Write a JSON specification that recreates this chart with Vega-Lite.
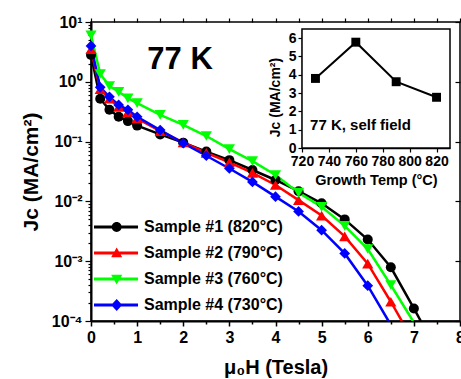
{
  "$schema": "https://vega.github.io/schema/vega-lite/v6.json",
  "width": 369,
  "height": 299,
  "autosize": "none",
  "padding": {"left": 91, "top": 22, "right": 1, "bottom": 58},
  "background": "white",
  "config": {
    "font": "Liberation Sans",
    "view": {"stroke": "black", "strokeWidth": 1.5},
    "axis": {"grid": false, "domainColor": "black", "tickColor": "black", "labelColor": "black", "titleColor": "black", "labelFont": "Liberation Sans", "titleFont": "Liberation Sans", "labelFontWeight": "bold", "titleFontWeight": "bold", "labelOverlap": false, "labelFlush": false},
    "legend": {"labelFont": "Liberation Sans", "labelFontSize": 16, "labelFontWeight": "bold", "labelColor": "black"}
  },
  "datasets": {
    "jc": [
      {"s": "Sample #1 (820°C)", "H": 0, "J": 2.8, "m": 1},
      {"s": "Sample #1 (820°C)", "H": 0.2, "J": 0.52, "m": 1},
      {"s": "Sample #1 (820°C)", "H": 0.4, "J": 0.34, "m": 1},
      {"s": "Sample #1 (820°C)", "H": 0.6, "J": 0.26, "m": 1},
      {"s": "Sample #1 (820°C)", "H": 0.8, "J": 0.22, "m": 1},
      {"s": "Sample #1 (820°C)", "H": 1.0, "J": 0.185, "m": 1},
      {"s": "Sample #1 (820°C)", "H": 1.5, "J": 0.132, "m": 1},
      {"s": "Sample #1 (820°C)", "H": 2.0, "J": 0.096, "m": 1},
      {"s": "Sample #1 (820°C)", "H": 2.5, "J": 0.068, "m": 1},
      {"s": "Sample #1 (820°C)", "H": 3.0, "J": 0.049, "m": 1},
      {"s": "Sample #1 (820°C)", "H": 3.5, "J": 0.0335, "m": 1},
      {"s": "Sample #1 (820°C)", "H": 4.0, "J": 0.0228, "m": 1},
      {"s": "Sample #1 (820°C)", "H": 4.5, "J": 0.0148, "m": 1},
      {"s": "Sample #1 (820°C)", "H": 5.0, "J": 0.0093, "m": 1},
      {"s": "Sample #1 (820°C)", "H": 5.5, "J": 0.005, "m": 1},
      {"s": "Sample #1 (820°C)", "H": 6.0, "J": 0.0023, "m": 1},
      {"s": "Sample #1 (820°C)", "H": 6.5, "J": 0.00079, "m": 1},
      {"s": "Sample #1 (820°C)", "H": 7.0, "J": 0.000162, "m": 1},
      {"s": "Sample #1 (820°C)", "H": 7.15, "J": 0.0001, "m": 0},
      {"s": "Sample #2 (790°C)", "H": 0, "J": 3.5, "m": 1},
      {"s": "Sample #2 (790°C)", "H": 0.2, "J": 0.75, "m": 1},
      {"s": "Sample #2 (790°C)", "H": 0.4, "J": 0.52, "m": 1},
      {"s": "Sample #2 (790°C)", "H": 0.6, "J": 0.38, "m": 1},
      {"s": "Sample #2 (790°C)", "H": 0.8, "J": 0.31, "m": 1},
      {"s": "Sample #2 (790°C)", "H": 1.0, "J": 0.245, "m": 1},
      {"s": "Sample #2 (790°C)", "H": 1.5, "J": 0.15, "m": 1},
      {"s": "Sample #2 (790°C)", "H": 2.0, "J": 0.097, "m": 1},
      {"s": "Sample #2 (790°C)", "H": 2.5, "J": 0.065, "m": 1},
      {"s": "Sample #2 (790°C)", "H": 3.0, "J": 0.045, "m": 1},
      {"s": "Sample #2 (790°C)", "H": 3.5, "J": 0.03, "m": 1},
      {"s": "Sample #2 (790°C)", "H": 4.0, "J": 0.0188, "m": 1},
      {"s": "Sample #2 (790°C)", "H": 4.5, "J": 0.0105, "m": 1},
      {"s": "Sample #2 (790°C)", "H": 5.0, "J": 0.0058, "m": 1},
      {"s": "Sample #2 (790°C)", "H": 5.5, "J": 0.0026, "m": 1},
      {"s": "Sample #2 (790°C)", "H": 6.0, "J": 0.00091, "m": 1},
      {"s": "Sample #2 (790°C)", "H": 6.5, "J": 0.00021, "m": 1},
      {"s": "Sample #2 (790°C)", "H": 6.74, "J": 0.0001, "m": 0},
      {"s": "Sample #3 (760°C)", "H": 0, "J": 6.0, "m": 1},
      {"s": "Sample #3 (760°C)", "H": 0.2, "J": 1.35, "m": 1},
      {"s": "Sample #3 (760°C)", "H": 0.4, "J": 0.85, "m": 1},
      {"s": "Sample #3 (760°C)", "H": 0.6, "J": 0.68, "m": 1},
      {"s": "Sample #3 (760°C)", "H": 0.8, "J": 0.53, "m": 1},
      {"s": "Sample #3 (760°C)", "H": 1.0, "J": 0.44, "m": 1},
      {"s": "Sample #3 (760°C)", "H": 1.5, "J": 0.28, "m": 1},
      {"s": "Sample #3 (760°C)", "H": 2.0, "J": 0.19, "m": 1},
      {"s": "Sample #3 (760°C)", "H": 2.5, "J": 0.124, "m": 1},
      {"s": "Sample #3 (760°C)", "H": 3.0, "J": 0.075, "m": 1},
      {"s": "Sample #3 (760°C)", "H": 3.5, "J": 0.047, "m": 1},
      {"s": "Sample #3 (760°C)", "H": 4.0, "J": 0.0276, "m": 1},
      {"s": "Sample #3 (760°C)", "H": 4.5, "J": 0.014, "m": 1},
      {"s": "Sample #3 (760°C)", "H": 5.0, "J": 0.0081, "m": 1},
      {"s": "Sample #3 (760°C)", "H": 5.5, "J": 0.0039, "m": 1},
      {"s": "Sample #3 (760°C)", "H": 6.0, "J": 0.0016, "m": 1},
      {"s": "Sample #3 (760°C)", "H": 6.5, "J": 0.0004, "m": 1},
      {"s": "Sample #3 (760°C)", "H": 6.98, "J": 0.0001, "m": 0},
      {"s": "Sample #4 (730°C)", "H": 0, "J": 3.98, "m": 1},
      {"s": "Sample #4 (730°C)", "H": 0.2, "J": 0.81, "m": 1},
      {"s": "Sample #4 (730°C)", "H": 0.4, "J": 0.56, "m": 1},
      {"s": "Sample #4 (730°C)", "H": 0.6, "J": 0.41, "m": 1},
      {"s": "Sample #4 (730°C)", "H": 0.8, "J": 0.34, "m": 1},
      {"s": "Sample #4 (730°C)", "H": 1.0, "J": 0.26, "m": 1},
      {"s": "Sample #4 (730°C)", "H": 1.5, "J": 0.156, "m": 1},
      {"s": "Sample #4 (730°C)", "H": 2.0, "J": 0.094, "m": 1},
      {"s": "Sample #4 (730°C)", "H": 2.5, "J": 0.058, "m": 1},
      {"s": "Sample #4 (730°C)", "H": 3.0, "J": 0.0355, "m": 1},
      {"s": "Sample #4 (730°C)", "H": 3.5, "J": 0.0212, "m": 1},
      {"s": "Sample #4 (730°C)", "H": 4.0, "J": 0.012, "m": 1},
      {"s": "Sample #4 (730°C)", "H": 4.5, "J": 0.0068, "m": 1},
      {"s": "Sample #4 (730°C)", "H": 5.0, "J": 0.0033, "m": 1},
      {"s": "Sample #4 (730°C)", "H": 5.5, "J": 0.00135, "m": 1},
      {"s": "Sample #4 (730°C)", "H": 6.0, "J": 0.00039, "m": 1},
      {"s": "Sample #4 (730°C)", "H": 6.45, "J": 0.0001, "m": 0}
    ],
    "inset": [
      {"T": 730, "Jc": 3.8},
      {"T": 760, "Jc": 5.78},
      {"T": 790, "Jc": 3.62},
      {"T": 820, "Jc": 2.77}
    ],
    "frame": [{"t1": 720, "t2": 830, "j1": 0, "j2": 6.5}]
  },
  "layer": [
    {
      "data": {"name": "jc"},
      "resolve": {"axis": {"x": "independent", "y": "independent"}},
      "layer": [
        {
          "mark": {"type": "line", "strokeWidth": 2.5, "clip": true},
          "encoding": {
            "x": {"field": "H", "type": "quantitative",
              "scale": {"domain": [0, 8], "nice": false, "zero": false},
              "axis": {"orient": "bottom", "title": "μ₀H (Tesla)",
                "values": [0, 0.5, 1, 1.5, 2, 2.5, 3, 3.5, 4, 4.5, 5, 5.5, 6, 6.5, 7, 7.5, 8],
                "labelExpr": "datum.value % 1 == 0 ? format(datum.value, 'd') : ''",
                "tickSize": {"condition": {"test": "datum.value % 1 != 0", "value": 3}, "value": 5},
                "tickWidth": 1.5, "domainWidth": 2, "labelFontSize": 16, "labelPadding": 3,
                "titleFontSize": 20, "titleY": 52, "titleBaseline": "alphabetic"}},
            "y": {"field": "J", "type": "quantitative",
              "scale": {"type": "log", "domain": [0.0001, 10], "nice": false},
              "axis": {"orient": "left", "title": "Jc (MA/cm²)",
                "values": [0.0001, 0.0002, 0.0003, 0.0004, 0.0005, 0.0006, 0.0007, 0.0008, 0.0009, 0.001, 0.002, 0.003, 0.004, 0.005, 0.006, 0.007, 0.008, 0.009, 0.01, 0.02, 0.03, 0.04, 0.05, 0.06, 0.07, 0.08, 0.09, 0.1, 0.2, 0.3, 0.4, 0.5, 0.6, 0.7, 0.8, 0.9, 1, 2, 3, 4, 5, 6, 7, 8, 9, 10],
                "labelExpr": "abs(log(datum.value)/LN10 - round(log(datum.value)/LN10)) < 0.01 ? '10' + ['⁻⁴','⁻³','⁻²','⁻¹','⁰','¹'][round(log(datum.value)/LN10) + 4] : ''",
                "tickSize": {"condition": {"test": "abs(log(datum.value)/LN10 - round(log(datum.value)/LN10)) < 0.01", "value": 6}, "value": 3},
                "tickWidth": 1.2, "domainWidth": 2, "labelFontSize": 16, "labelPadding": 3,
                "titleFontSize": 21, "titleX": -60, "titleBaseline": "middle", "titleAngle": 270}},
            "color": {"field": "s", "type": "nominal",
              "scale": {"domain": ["Sample #1 (820°C)", "Sample #2 (790°C)", "Sample #3 (760°C)", "Sample #4 (730°C)"], "range": ["#000000", "#ff0000", "#00ff00", "#0000ff"]},
              "legend": {"title": null, "orient": "none", "legendX": 2, "legendY": 197, "padding": 0,
                "symbolSize": 196, "labelOffset": 35, "rowPadding": 10, "symbolStrokeWidth": 0, "symbolOpacity": 1}}
          }
        },
        {
          "transform": [{"filter": "datum.m == 2"}],
          "mark": {"type": "point", "filled": true, "opacity": 1, "strokeWidth": 0},
          "encoding": {
            "x": {"field": "H", "type": "quantitative", "scale": {"domain": [0, 8], "nice": false, "zero": false}, "axis": null},
            "y": {"field": "J", "type": "quantitative", "scale": {"type": "log", "domain": [0.0001, 10], "nice": false}, "axis": null},
            "color": {"field": "s", "type": "nominal",
              "legend": {"title": null, "orient": "none", "legendX": 2, "legendY": 197, "padding": 0,
                "symbolSize": 196, "labelOffset": 35, "rowPadding": 10, "symbolStrokeWidth": 0, "symbolOpacity": 1}},
            "shape": {"field": "s", "type": "nominal",
              "scale": {"domain": ["Sample #1 (820°C)", "Sample #2 (790°C)", "Sample #3 (760°C)", "Sample #4 (730°C)"],
                "range": [
                  "M-1,-0.21H5.29V0.21H-1ZM1.53,0A0.71,0.71 0 1 1 2.95,0A0.71,0.71 0 1 1 1.53,0Z",
                  "M-1,-0.21H5.29V0.21H-1ZM2.24,-0.79L3.03,0.6L1.45,0.6Z",
                  "M-1,-0.21H5.29V0.21H-1ZM1.45,-0.6L3.03,-0.6L2.24,0.79Z",
                  "M-1,-0.21H5.29V0.21H-1ZM2.24,-0.86L3.03,0L2.24,0.86L1.45,0Z"]},
              "legend": {"title": null, "orient": "none", "legendX": 2, "legendY": 197, "padding": 0,
                "symbolSize": 196, "labelOffset": 35, "rowPadding": 10, "symbolStrokeWidth": 0, "symbolOpacity": 1}}
          }
        },
        {
          "transform": [{"filter": "datum.m == 1 && datum.s == 'Sample #1 (820°C)'"}],
          "mark": {"type": "point", "shape": "circle", "filled": true, "opacity": 1, "size": 100, "strokeWidth": 0},
          "encoding": {
            "x": {"field": "H", "type": "quantitative", "scale": {"domain": [0, 8], "nice": false, "zero": false}, "axis": null},
            "y": {"field": "J", "type": "quantitative", "scale": {"type": "log", "domain": [0.0001, 10], "nice": false}, "axis": null},
            "color": {"field": "s", "type": "nominal"}
          }
        },
        {
          "transform": [{"filter": "datum.m == 1 && datum.s == 'Sample #2 (790°C)'"}],
          "mark": {"type": "point", "shape": "triangle-up", "filled": true, "opacity": 1, "size": 125, "strokeWidth": 0},
          "encoding": {
            "x": {"field": "H", "type": "quantitative", "scale": {"domain": [0, 8], "nice": false, "zero": false}, "axis": null},
            "y": {"field": "J", "type": "quantitative", "scale": {"type": "log", "domain": [0.0001, 10], "nice": false}, "axis": null},
            "color": {"field": "s", "type": "nominal"}
          }
        },
        {
          "transform": [{"filter": "datum.m == 1 && datum.s == 'Sample #3 (760°C)'"}],
          "mark": {"type": "point", "shape": "triangle-down", "filled": true, "opacity": 1, "size": 125, "strokeWidth": 0},
          "encoding": {
            "x": {"field": "H", "type": "quantitative", "scale": {"domain": [0, 8], "nice": false, "zero": false}, "axis": null},
            "y": {"field": "J", "type": "quantitative", "scale": {"type": "log", "domain": [0.0001, 10], "nice": false}, "axis": null},
            "color": {"field": "s", "type": "nominal"}
          }
        },
        {
          "transform": [{"filter": "datum.m == 1 && datum.s == 'Sample #4 (730°C)'"}],
          "mark": {"type": "point", "shape": "diamond", "filled": true, "opacity": 1, "size": 115, "strokeWidth": 0},
          "encoding": {
            "x": {"field": "H", "type": "quantitative", "scale": {"domain": [0, 8], "nice": false, "zero": false}, "axis": null},
            "y": {"field": "J", "type": "quantitative", "scale": {"type": "log", "domain": [0.0001, 10], "nice": false}, "axis": null},
            "color": {"field": "s", "type": "nominal"}
          }
        },
        {
          "mark": {"type": "point", "opacity": 0},
          "encoding": {
            "x": {"field": "H", "type": "quantitative", "scale": {"domain": [0, 8], "nice": false, "zero": false},
              "axis": {"orient": "top", "title": null, "labels": false, "domain": false,
                "values": [0, 0.5, 1, 1.5, 2, 2.5, 3, 3.5, 4, 4.5, 5, 5.5, 6, 6.5, 7, 7.5, 8],
                "tickSize": 4, "tickWidth": 1.2}},
            "y": {"field": "J", "type": "quantitative", "scale": {"type": "log", "domain": [0.0001, 10], "nice": false},
              "axis": {"orient": "right", "title": null, "labels": false, "domain": false,
                "values": [0.0001, 0.001, 0.01, 0.1, 1, 10], "tickSize": -5, "tickWidth": 1.2}}
          }
        },
        {
          "data": {"values": [{"H": 1.93, "J": 2.3, "label": "77 K"}]},
          "mark": {"type": "text", "fontSize": 31, "fontWeight": "bold", "font": "Liberation Sans", "color": "black", "align": "center", "baseline": "middle"},
          "encoding": {
            "x": {"field": "H", "type": "quantitative", "scale": {"domain": [0, 8], "nice": false, "zero": false}, "axis": null},
            "y": {"field": "J", "type": "quantitative", "scale": {"type": "log", "domain": [0.0001, 10], "nice": false}, "axis": null},
            "text": {"field": "label"}
          }
        }
      ]
    },
    {
      "layer": [
        {
          "data": {"name": "frame"},
          "mark": {"type": "rect", "fill": "white", "stroke": "black", "strokeWidth": 1.5},
          "encoding": {
            "x": {"field": "t1", "type": "quantitative",
              "scale": {"domain": [720, 830], "range": [211, 359], "nice": false, "zero": false},
              "axis": {"orient": "bottom", "offset": -173, "title": "Growth Temp (°C)",
                "values": [720, 730, 740, 750, 760, 770, 780, 790, 800, 810, 820, 830],
                "labelExpr": "datum.value % 20 == 0 && datum.value <= 820 ? datum.label : ''",
                "tickSize": {"condition": {"test": "datum.value % 20 != 0", "value": 2}, "value": 4},
                "tickWidth": 1.2, "domainWidth": 1.5, "labelFontSize": 14, "labelPadding": 2,
                "titleFontSize": 14.5, "titleY": 32, "titleBaseline": "middle"}},
            "x2": {"field": "t2"},
            "y": {"field": "j1", "type": "quantitative",
              "scale": {"domain": [0, 6.5], "range": [126, 7], "nice": false, "zero": false},
              "axis": {"orient": "left", "offset": -211, "title": "Jc (MA/cm²)",
                "values": [0, 0.5, 1, 1.5, 2, 2.5, 3, 3.5, 4, 4.5, 5, 5.5, 6, 6.5],
                "labelExpr": "datum.value % 1 == 0 ? datum.label : ''",
                "tickSize": {"condition": {"test": "datum.value % 1 != 0", "value": 2}, "value": 4},
                "tickWidth": 1.2, "domainWidth": 1.5, "labelFontSize": 14, "labelPadding": 2,
                "titleFontSize": 14, "titleX": -27, "titleY": 75, "titleBaseline": "middle", "titleAngle": 270}},
            "y2": {"field": "j2"}
          }
        },
        {
          "data": {"name": "inset"},
          "mark": {"type": "line", "color": "black", "strokeWidth": 2},
          "encoding": {
            "x": {"field": "T", "type": "quantitative"},
            "y": {"field": "Jc", "type": "quantitative"}
          }
        },
        {
          "data": {"name": "inset"},
          "mark": {"type": "square", "color": "black", "size": 80, "filled": true, "opacity": 1},
          "encoding": {
            "x": {"field": "T", "type": "quantitative"},
            "y": {"field": "Jc", "type": "quantitative"}
          }
        },
        {
          "data": {"values": [{"T": 726, "Jc": 1.24, "label": "77 K, self field"}]},
          "mark": {"type": "text", "align": "left", "baseline": "middle", "font": "Liberation Sans", "fontSize": 15, "fontWeight": "bold", "color": "black"},
          "encoding": {
            "x": {"field": "T", "type": "quantitative"},
            "y": {"field": "Jc", "type": "quantitative"},
            "text": {"field": "label"}
          }
        }
      ]
    }
  ],
  "resolve": {"scale": {"x": "independent", "y": "independent"}}
}
